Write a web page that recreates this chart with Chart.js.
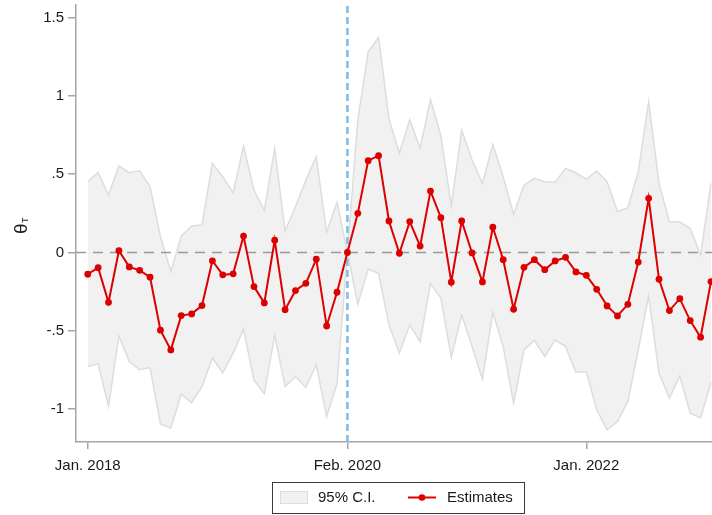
<!DOCTYPE html>
<html>
<head>
<meta charset="utf-8">
<script src="https://cdn.jsdelivr.net/npm/chart.js@4.4.1/dist/chart.umd.min.js"></script>
<style>
  html, body { margin: 0; padding: 0; background: #ffffff; }
  #wrap { width: 712px; height: 515px; }
</style>
</head>
<body>
<div id="wrap"><canvas id="chart" width="712" height="515"></canvas></div>
<script>
// Monthly event-study estimates, month 0 = Jan. 2018, reference month = Feb. 2020
const estimates = [
  -0.139, -0.097, -0.318, 0.011, -0.092, -0.114, -0.158, -0.496, -0.622, -0.403, -0.392, -0.339,
  -0.053, -0.143, -0.136, 0.105, -0.218, -0.322, 0.078, -0.365, -0.243, -0.197, -0.043,
  -0.469, -0.254, 0.000, 0.250, 0.586, 0.618, 0.201, -0.005, 0.197, 0.041, 0.392, 0.222,
  -0.190, 0.201, -0.003, -0.188, 0.161, -0.046, -0.362, -0.095, -0.046, -0.110, -0.054,
  -0.031, -0.124, -0.146, -0.235, -0.341, -0.405, -0.331, -0.061, 0.346, -0.171, -0.371, -0.295, -0.435, -0.541, -0.186
];
const ciUpper = [
  0.452, 0.511, 0.367, 0.552, 0.509, 0.522, 0.420, 0.101, -0.122, 0.105, 0.169, 0.175,
  0.569, 0.484, 0.381, 0.679, 0.399, 0.267, 0.665, 0.137, 0.292, 0.462, 0.611,
  0.129, 0.320, 0.000, 0.845, 1.281, 1.372, 0.856, 0.633, 0.849, 0.665, 0.977, 0.745,
  0.297, 0.781, 0.590, 0.441, 0.690, 0.484, 0.244, 0.430, 0.473, 0.452, 0.448,
  0.537, 0.509, 0.467, 0.520, 0.452, 0.260, 0.286, 0.515, 0.962, 0.441, 0.197, 0.195, 0.154, -0.016, 0.441
];
const ciLower = [
  -0.728, -0.711, -0.983, -0.533, -0.696, -0.749, -0.735, -1.094, -1.120, -0.905, -0.958, -0.856,
  -0.675, -0.768, -0.643, -0.490, -0.813, -0.902, -0.526, -0.856, -0.792, -0.862, -0.717,
  -1.047, -0.839, 0.000, -0.330, -0.107, -0.133, -0.462, -0.643, -0.462, -0.569, -0.197, -0.292,
  -0.669, -0.399, -0.601, -0.809, -0.382, -0.601, -0.962, -0.622, -0.562, -0.664, -0.558,
  -0.601, -0.764, -0.760, -1.004, -1.132, -1.079, -0.951, -0.622, -0.277, -0.771, -0.930, -0.788, -1.026, -1.057, -0.830
];
const months = estimates.map((_, i) => i);           // months since Jan. 2018
const eventMonth = 25;                                // Feb. 2020
const xTickValues = [0, 25, 48];
const xTickLabels = ['Jan. 2018', 'Feb. 2020', 'Jan. 2022'];
const yTickValues = [-1, -0.5, 0, 0.5, 1, 1.5];
const yTickLabels = ['-1', '-.5', '0', '.5', '1', '1.5'];

const X_MIN = -1.13, X_MAX = 60.1, Y_MIN = -1.21, Y_MAX = 1.58;
const FONT = '"Liberation Sans", Arial, Helvetica, sans-serif';
const RED = '#dc0000';
const AXIS_GREY = '#a6a6a6';
const BAND_FILL = '#f1f1f1';
const BAND_EDGE = '#dddddd';

const toXY = (arr) => arr.map((v, i) => ({ x: months[i], y: v }));

// Legend drawn as a framed box under the axis
const boxedLegend = {
  id: 'boxedLegend',
  afterDraw(chart) {
    const ctx = chart.ctx;
    const band = chart.data.datasets[3];
    const est = chart.data.datasets[0];
    ctx.save();
    ctx.strokeStyle = '#3a3a3a';
    ctx.lineWidth = 1;
    ctx.strokeRect(272.5, 482.5, 252, 31);
    // band swatch
    ctx.fillStyle = BAND_FILL;
    ctx.fillRect(280, 491, 28, 13);
    ctx.strokeStyle = BAND_EDGE;
    ctx.strokeRect(280.5, 491.5, 27, 12);
    ctx.fillStyle = '#1a1a1a';
    ctx.font = '15px ' + FONT;
    ctx.textBaseline = 'middle';
    ctx.textAlign = 'left';
    ctx.fillText(band.label, 318, 498);
    // estimate swatch: line with marker
    ctx.strokeStyle = RED;
    ctx.lineWidth = 2;
    ctx.beginPath();
    ctx.moveTo(408, 497.5);
    ctx.lineTo(436, 497.5);
    ctx.stroke();
    ctx.fillStyle = RED;
    ctx.beginPath();
    ctx.arc(422, 497.5, 3.3, 0, Math.PI * 2);
    ctx.fill();
    ctx.fillStyle = '#1a1a1a';
    ctx.fillText(est.label, 447, 498);
    ctx.restore();
  }
};

// Vertical axis title: theta with subscript T
const thetaTitle = {
  id: 'thetaTitle',
  afterDraw(chart) {
    const ctx = chart.ctx;
    ctx.save();
    ctx.translate(26.8, 234);
    ctx.rotate(-Math.PI / 2);
    ctx.fillStyle = '#1a1a1a';
    ctx.textAlign = 'left';
    ctx.textBaseline = 'alphabetic';
    ctx.font = '19px ' + FONT;
    ctx.fillText('θ', 0, 0);
    const w = ctx.measureText('θ').width;
    ctx.font = '9px ' + FONT;
    ctx.fillText('T', w + 0.5, 1);
    ctx.restore();
  }
};

new Chart(document.getElementById('chart'), {
  type: 'line',
  data: {
    datasets: [
      {
        label: 'Estimates',
        data: toXY(estimates),
        borderColor: RED,
        backgroundColor: RED,
        borderWidth: 2,
        pointRadius: 3.4,
        pointBackgroundColor: RED,
        pointBorderWidth: 0,
        tension: 0,
        fill: false,
        order: 0,
        clip: false
      },
      {
        label: 'event',
        data: [{ x: eventMonth, y: Y_MIN }, { x: eventMonth, y: Y_MAX }],
        borderColor: '#80bfea',
        borderWidth: 2.6,
        borderDash: [7, 4],
        pointRadius: 0,
        fill: false,
        order: 1
      },
      {
        label: 'zero',
        data: [{ x: X_MIN, y: 0 }, { x: X_MAX, y: 0 }],
        borderColor: '#9a9a9a',
        borderWidth: 1.4,
        borderDash: [10, 7],
        pointRadius: 0,
        fill: false,
        order: 2
      },
      {
        label: '95% C.I.',
        data: toXY(ciUpper),
        borderColor: BAND_EDGE,
        backgroundColor: BAND_FILL,
        borderWidth: 1.5,
        pointRadius: 0,
        tension: 0,
        fill: '+1',
        order: 3
      },
      {
        label: 'ci-lower',
        data: toXY(ciLower),
        borderColor: BAND_EDGE,
        borderWidth: 1.5,
        pointRadius: 0,
        tension: 0,
        fill: false,
        order: 4
      }
    ]
  },
  options: {
    responsive: false,
    animation: false,
    devicePixelRatio: 1,
    layout: { autoPadding: false, padding: { top: 5, right: 0, bottom: 43, left: 0 } },
    plugins: {
      legend: { display: false },
      tooltip: { enabled: false },
      filler: { drawTime: 'beforeDatasetsDraw' }
    },
    scales: {
      x: {
        type: 'linear',
        min: X_MIN,
        max: X_MAX,
        grid: { display: true, drawOnChartArea: false, drawTicks: true, tickLength: 7, color: AXIS_GREY, lineWidth: 1.5 },
        border: { display: true, color: AXIS_GREY, width: 1.5 },
        afterBuildTicks(scale) { scale.ticks = xTickValues.map(v => ({ value: v })); },
        afterFit(scale) { scale.height = 30; scale.paddingLeft = 0; scale.paddingRight = 0; },
        ticks: {
          autoSkip: false,
          maxRotation: 0,
          padding: 8,
          color: '#1a1a1a',
          font: { family: FONT, size: 15 },
          callback(value) {
            const k = xTickValues.indexOf(value);
            return k >= 0 ? xTickLabels[k] : '';
          }
        }
      },
      y: {
        type: 'linear',
        min: Y_MIN,
        max: Y_MAX,
        grid: { display: true, drawOnChartArea: false, drawTicks: true, tickLength: 8, color: AXIS_GREY, lineWidth: 1.5 },
        border: { display: true, color: AXIS_GREY, width: 1.5 },
        afterBuildTicks(scale) { scale.ticks = yTickValues.map(v => ({ value: v })); },
        afterFit(scale) { scale.width = 76; scale.paddingTop = 0; scale.paddingBottom = 0; },
        ticks: {
          autoSkip: false,
          padding: 4,
          color: '#1a1a1a',
          font: { family: FONT, size: 15 },
          callback(value) {
            const k = yTickValues.indexOf(value);
            return k >= 0 ? yTickLabels[k] : '';
          }
        }
      }
    }
  },
  plugins: [boxedLegend, thetaTitle]
});
</script>
</body>
</html>
